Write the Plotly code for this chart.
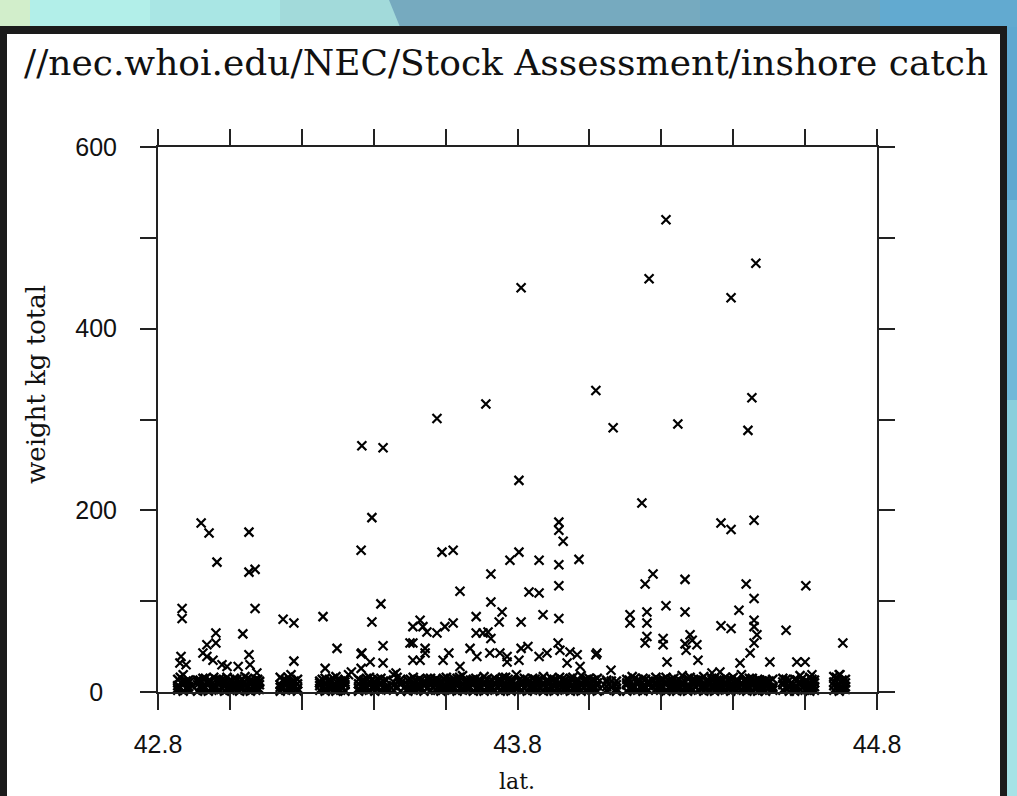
import plotly.graph_objects as go

# ---------------- data ----------------
band_lat = [42.855, 42.870, 42.885,
            42.910, 42.925, 42.940, 42.955, 42.970, 42.985, 43.000,
            43.012, 43.027, 43.042, 43.057, 43.072, 43.082,
            43.140, 43.155, 43.170, 43.188,
            43.250, 43.265, 43.280, 43.295, 43.308, 43.320,
            43.358, 43.373, 43.388, 43.403, 43.420, 43.435,
            43.455, 43.475,
            43.495, 43.510, 43.525, 43.540, 43.558,
            43.572, 43.587, 43.602, 43.617, 43.632, 43.647, 43.662, 43.677, 43.692, 43.707,
            43.722, 43.737, 43.752, 43.767, 43.782, 43.797, 43.812, 43.827, 43.842, 43.857,
            43.872, 43.887, 43.902, 43.917, 43.932, 43.947, 43.962, 43.977, 43.992, 44.007,
            44.022,
            44.048, 44.075,
            44.104, 44.119, 44.134, 44.149, 44.164, 44.185,
            44.198, 44.213, 44.228, 44.243, 44.258, 44.273, 44.288, 44.303, 44.318, 44.333,
            44.348, 44.363, 44.378, 44.393, 44.408, 44.423, 44.438, 44.453, 44.468, 44.481,
            44.490, 44.510,
            44.538, 44.556,
            44.571, 44.586, 44.600, 44.613, 44.626,
            44.680, 44.695, 44.712]

band_w1 = [2, 1, 3,
           1, 2, 1, 3, 2, 1, 2,
           3, 1, 2, 1, 2, 3,
           1, 2, 3, 1,
           2, 1, 3, 1, 2, 1,
           1, 3, 2, 1, 2, 3,
           2, 1,
           1, 2, 3, 1, 2,
           2, 1, 3, 2, 1, 2, 3, 1, 2, 1,
           3, 2, 1, 2, 1, 3, 2, 1, 2, 3,
           1, 2, 1, 3, 2, 1, 2, 1, 3, 2,
           1,
           2, 1,
           1, 3, 2, 1, 2, 3,
           2, 1, 3, 1, 2, 1, 3, 2, 1, 2,
           1, 3, 2, 1, 2, 3, 1, 2, 1, 2,
           1, 2,
           2, 1,
           1, 3, 2, 1, 2,
           2, 1, 3]

band_w2 = [7, 8, 6,
           8, 6, 9, 7, 8, 6, 7,
           6, 8, 7, 9, 6, 8,
           8, 7, 6, 9,
           7, 9, 6, 8, 7, 8,
           9, 6, 8, 7, 9, 6,
           7, 8,
           8, 6, 9, 7, 8,
           7, 9, 6, 8, 7, 9, 6, 8, 7, 8,
           6, 9, 7, 8, 6, 7, 9, 8, 6, 7,
           8, 9, 6, 7, 8, 6, 9, 7, 8, 6,
           7,
           6, 8,
           8, 7, 9, 6, 8, 7,
           7, 9, 6, 8, 7, 6, 9, 8, 7, 8,
           6, 9, 7, 8, 6, 9, 7, 8, 6, 7,
           7, 6,
           8, 7,
           6, 8, 7, 9, 6,
           7, 8, 6]

band_w3 = [14, 19, 13,
           13, 15, 12, 16, 14, 12, 13,
           15, 12, 17, 13, 14, 12,
           16, 13, 19, 14,
           12, 15, 13, 17, 12, 14,
           14, 13, 16, 12, 15, 13,
           19, 14,
           13, 16, 14, 12, 15,
           14, 12, 16, 13, 15, 18, 12, 14, 13, 17,
           12, 15, 14, 16, 13, 19, 12, 14, 15, 13,
           17, 12, 14, 16, 13, 15, 12, 18, 14, 13,
           15,
           13, 12,
           14, 17, 13, 15, 12, 16,
           13, 16, 14, 12, 18, 15, 13, 14, 17, 12,
           15, 13, 16, 14, 12, 19, 13, 15, 14, 12,
           13, 14,
           15, 13,
           14, 18, 12, 16, 13,
           17, 19, 14]

band_w4 = [4, 11, 10,
           11, 4, 10, 5, 11, 10, 4,
           10, 5, 11, 4, 10, 11,
           5, 11, 10, 4,
           10, 4, 11, 5, 10, 11,
           4, 10, 11, 5, 10, 4,
           11, 10,
           4, 11, 5, 10, 11,
           10, 4, 11, 5, 10, 4, 11, 10, 5, 11,
           4, 10, 11, 5, 10, 4, 11, 10, 5, 11,
           10, 4, 11, 10, 5, 11, 4, 10, 11, 5,
           10,
           11, 4,
           10, 5, 11, 4, 10, 11,
           4, 11, 10, 5, 11, 4, 10, 11, 5, 10,
           11, 4, 10, 5, 11, 10, 4, 11, 10, 5,
           10, 4,
           11, 5,
           4, 10, 11, 5, 10,
           11, 4, 10]

mid_lat = [42.862, 42.878,
           42.917, 42.932, 42.947, 42.962, 42.977, 42.992,
           43.006, 43.019, 43.034, 43.049, 43.064, 43.077,
           43.147, 43.162, 43.179,
           43.257, 43.272, 43.287, 43.301, 43.314,
           43.365, 43.380, 43.395, 43.411, 43.427,
           43.465,
           43.502, 43.517, 43.532, 43.549, 43.565,
           43.579, 43.594, 43.609, 43.624, 43.639, 43.654, 43.669, 43.684, 43.699, 43.714,
           43.729, 43.744, 43.759, 43.774, 43.789, 43.804, 43.819, 43.834, 43.849, 43.864,
           43.879, 43.894, 43.909, 43.924, 43.939, 43.954, 43.969, 43.984, 43.999, 44.014,
           44.061,
           44.111, 44.126, 44.141, 44.156, 44.174, 44.191,
           44.205, 44.220, 44.235, 44.250, 44.265, 44.280, 44.295, 44.310, 44.325, 44.340,
           44.355, 44.370, 44.385, 44.400, 44.415, 44.430, 44.445, 44.460, 44.474,
           44.500,
           44.547,
           44.578, 44.593, 44.606, 44.619,
           44.687, 44.703]

mid_w1 = [5, 4,
          6, 5, 4, 6, 5, 4,
          5, 6, 4, 5, 6, 4,
          5, 4, 6,
          4, 6, 5, 4, 5,
          6, 4, 5, 6, 4,
          5,
          4, 6, 5, 4, 6,
          5, 4, 6, 5, 4, 6, 5, 4, 6, 5,
          4, 6, 5, 4, 6, 5, 4, 6, 5, 4,
          6, 5, 4, 6, 5, 4, 6, 5, 4, 6,
          5,
          4, 6, 5, 4, 6, 5,
          6, 5, 4, 6, 5, 4, 6, 5, 4, 6,
          5, 4, 6, 5, 4, 6, 5, 4, 6,
          5,
          4,
          6, 5, 4, 6,
          5, 4]

mid_w2 = [16, 12,
          13, 15, 12, 14, 13, 16,
          12, 14, 13, 15, 12, 14,
          13, 16, 12,
          14, 12, 15, 13, 12,
          12, 15, 13, 14, 12,
          16,
          14, 12, 13, 15, 12,
          13, 15, 12, 14, 16, 12, 13, 15, 12, 14,
          13, 12, 16, 14, 12, 13, 15, 12, 14, 13,
          12, 15, 13, 14, 12, 16, 13, 12, 15, 13,
          12,
          13, 15, 12, 14, 13, 12,
          14, 12, 15, 13, 12, 16, 13, 14, 12, 15,
          13, 12, 14, 16, 12, 13, 15, 12, 13,
          12,
          14,
          13, 15, 12, 14,
          16, 13]

out_lat = [43.810, 43.367, 43.426, 43.576, 43.712, 44.018, 44.066, 43.804, 44.213, 44.166,
           44.463, 44.394, 44.452, 44.246, 44.441, 42.867, 42.867, 42.920, 42.942, 42.964,
           43.053, 43.053, 43.070, 43.070, 43.148, 43.178, 43.178, 43.259, 43.298, 43.365,
           43.395, 43.420, 43.395, 43.426, 43.365, 43.365, 43.265, 43.590, 42.864, 42.878,
           42.961, 42.961, 42.936, 43.036, 43.053, 42.936, 42.978, 43.509, 43.509, 43.529,
           43.548, 43.576, 43.598, 43.509, 43.543, 43.426, 43.462, 43.390, 44.146, 43.915,
           43.915, 43.927, 43.621, 43.779, 43.804, 43.860, 43.915, 43.971, 43.726, 43.640,
           43.832, 43.860, 43.915, 44.155, 44.177, 44.266, 43.726, 44.213, 44.266, 43.685,
           43.757, 43.749, 43.810, 43.871, 43.915, 44.113, 44.113, 44.160, 44.160, 44.160,
           44.155, 43.537, 43.621, 43.685, 43.704, 43.718, 43.726, 44.205, 44.205, 44.266,
           44.280, 43.609, 43.668, 43.810, 43.829, 43.913, 43.918, 43.946, 43.966, 44.018,
           44.060, 43.529, 43.751, 43.771, 43.804, 43.860, 44.366, 44.394, 44.458, 44.436,
           44.602, 44.458, 44.416, 44.366, 44.394, 44.458, 44.458, 44.466, 44.458, 44.547,
           44.286, 44.299, 44.269, 44.705, 44.447, 44.502, 44.419, 44.302, 44.216, 44.577,
           44.600, 44.619, 44.697, 44.341, 44.363, 43.367, 42.861, 42.925, 42.953, 42.992,
           43.023, 43.056, 43.075, 43.501, 43.543, 43.593, 43.640, 43.687, 43.723, 43.771,
           43.882, 43.938, 43.974, 44.021, 43.330, 43.338]

out_wt = [445, 271, 269, 301, 317, 332, 291, 233, 520, 455,
          472, 434, 324, 295, 288, 92, 81, 186, 175, 143,
          176, 132, 135, 92, 80, 76, 34, 83, 48, 156,
          192, 97, 77, 51, 42, 26, 26, 154, 39, 30,
          65, 54, 52, 64, 41, 39, 30, 72, 54, 79,
          66, 65, 72, 35, 48, 32, 21, 33, 208, 187,
          178, 166, 156, 145, 154, 145, 140, 146, 130, 111,
          110, 109, 117, 119, 130, 124, 99, 95, 88, 83,
          88, 77, 77, 85, 81, 85, 76, 88, 76, 61,
          54, 72, 76, 65, 65, 66, 59, 59, 52, 53,
          63, 43, 48, 48, 50, 54, 46, 44, 41, 41,
          24, 35, 43, 33, 35, 39, 186, 179, 189, 119,
          117, 103, 90, 73, 70, 79, 72, 63, 54, 68,
          57, 52, 46, 54, 43, 33, 32, 35, 33, 33,
          33, 19, 19, 21, 22, 43, 32, 43, 35, 28,
          28, 30, 21, 54, 43, 35, 28, 39, 43, 39,
          43, 32, 28, 43, 19, 22]

x_tickvals = [42.8, 43.0, 43.2, 43.4, 43.6, 43.8, 44.0, 44.2, 44.4, 44.6, 44.8]
x_ticktext = ["42.8", "", "", "", "", "43.8", "", "", "", "", "44.8"]
y_tickvals = [0, 100, 200, 300, 400, 500, 600]
y_ticktext = ["\u20070\u2007", "", "200", "", "400", "", "600"]

title_text = "//nec.whoi.edu/NEC/Stock Assessment/inshore catch"
x_title = "lat."
y_title = "weight kg total"

# ---------------- layout geometry (pixels) ----------------
W, H = 1017, 796
L, R, T, B = 158, 877, 147, 692


def pxx(x):
    return (x - L) / (R - L)


def pxy(y):
    return (B - y) / (B - T)


def rect(x0, y0, x1, y1, color):
    return dict(type="rect", xref="paper", yref="paper", layer="below",
                x0=pxx(x0), x1=pxx(x1), y0=pxy(y0), y1=pxy(y1),
                fillcolor=color, line=dict(width=0))


band_marker = dict(symbol="x-thin", size=9, color="black",
                   line=dict(width=2.4, color="black"))
marker = dict(symbol="x-thin", size=9, color="black",
              line=dict(width=2.2, color="black"))

all_lat = band_lat + band_lat + band_lat + band_lat + mid_lat + mid_lat
all_w = band_w1 + band_w2 + band_w3 + band_w4 + mid_w1 + mid_w2

fig = go.Figure()
fig.add_trace(go.Scatter(x=all_lat, y=all_w, mode="markers", marker=band_marker,
                         cliponaxis=False, hoverinfo="skip"))
fig.add_trace(go.Scatter(x=out_lat, y=out_wt, mode="markers", marker=marker,
                         cliponaxis=False, hoverinfo="skip"))

shapes = [
    # background above the frame
    rect(0, 0, 30, 27, "#d2eecb"),
    rect(30, 0, 150, 27, "#b2efe9"),
    rect(150, 0, 280, 27, "#a9e6e4"),
    dict(type="path", xref="paper", yref="paper", layer="below",
         path="M %f,%f L %f,%f L %f,%f L %f,%f Z" % (
             pxx(280), pxy(0), pxx(389), pxy(0), pxx(400), pxy(27), pxx(280), pxy(27)),
         fillcolor="#a2dada", line=dict(width=0)),
    rect(700, 0, 880, 27, "#6ea8c2"),
    rect(880, 0, 1017, 27, "#62aad0"),
    # right strip
    rect(1007, 27, 1017, 200, "#5fa8d0"),
    rect(1007, 200, 1017, 400, "#70b8d8"),
    rect(1007, 400, 1017, 600, "#8acfdc"),
    rect(1007, 600, 1017, 800, "#a6e2e6"),
    # black frame and white panel
    rect(0, 26, 1007, 800, "#1b1b1b"),
    rect(7, 34, 1000, 800, "#ffffff"),
]

axis_common = dict(showline=True, linewidth=2, linecolor="#222222", mirror="ticks",
                   ticks="outside", ticklen=16, tickwidth=2, tickcolor="#222222",
                   showgrid=False, zeroline=False,
                   tickfont=dict(family="Liberation Sans", size=25, color="#111111"))

fig.update_layout(
    width=W, height=H, autosize=False,
    margin=dict(l=L, r=W - R, t=T, b=H - B, pad=0),
    paper_bgcolor="#76aabf",
    plot_bgcolor="rgba(0,0,0,0)",
    showlegend=False,
    shapes=shapes,
    xaxis=dict(range=[42.8, 44.8], tickmode="array", tickvals=x_tickvals,
               ticktext=x_ticktext, ticklabelstandoff=13, **axis_common),
    yaxis=dict(range=[0, 600], tickmode="array", tickvals=y_tickvals,
               ticktext=y_ticktext, ticklabelstandoff=18, **axis_common),
    annotations=[
        dict(text=title_text, xref="paper", yref="paper", x=pxx(506), y=pxy(62),
             xanchor="center", yanchor="middle", showarrow=False,
             font=dict(family="DejaVu Serif", size=36, color="#111111")),
        dict(text=y_title, xref="paper", yref="paper", x=pxx(36), y=pxy(385),
             xanchor="center", yanchor="middle", textangle=-90, showarrow=False,
             font=dict(family="DejaVu Serif", size=26, color="#111111")),
        dict(text=x_title, xref="paper", yref="paper", x=pxx(517), y=pxy(796),
             xanchor="center", yanchor="bottom", showarrow=False,
             font=dict(family="DejaVu Serif", size=22, color="#111111")),
    ],
)

fig.write_html("out.html", config={"displayModeBar": False},
               post_script="document.body.style.margin='0';document.body.style.overflow='hidden';")
